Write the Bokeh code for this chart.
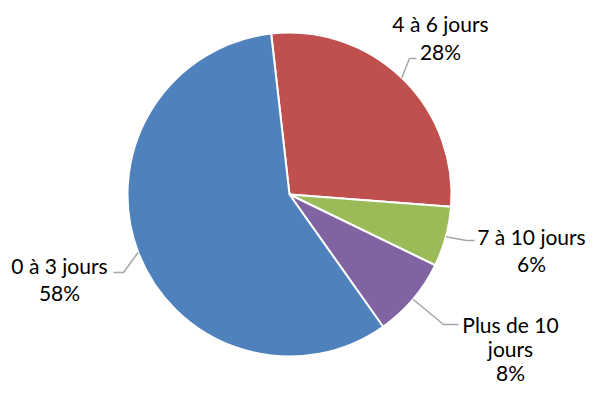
from math import radians, sin, cos
from bokeh.plotting import figure
from bokeh.models import Range1d
from bokeh.core.properties import value
from bokeh.embed import file_html
from bokeh.resources import INLINE

# ---- data ----
categories = ["4 à 6 jours", "7 à 10 jours", "Plus de 10 jours", "0 à 3 jours"]
percents = [28, 6, 8, 58]
colors = ["#C0504D", "#9BBB59", "#8064A2", "#4F81BD"]
label_lines = [["4 à 6 jours", "28%"], ["7 à 10 jours", "6%"],
               ["Plus de 10", "jours", "8%"], ["0 à 3 jours", "58%"]]

# ---- layout (picture pixel coordinates, origin top-left) ----
W, H = 587, 387
CX, CY, R = 289, 194, 162
START = -6.5  # degrees clockwise from 12 o'clock
label_pos = [(440, 23), (531, 236), (510, 324), (59, 265)]
line_gaps = [28, 27, 24, 27]
elbows = [[(409, 58), (416, 58)], [(466, 240), (474, 240)],
          [(443, 324), (458, 324)], [(123, 272), (113, 272)]]

def dy(sy):
    return H - sy  # picture y -> data y

p = figure(width=W, height=H, output_backend="svg", toolbar_location=None,
           x_range=Range1d(0, W), y_range=Range1d(0, H),
           min_border=0, outline_line_color=None)
p.axis.visible = False
p.grid.visible = False
p.background_fill_color = "white"
p.border_fill_color = "white"

total = sum(percents)
theta = START
for i, (pc, col) in enumerate(zip(percents, colors)):
    span = 360.0 * pc / total
    a0, a1 = theta, theta + span
    p.wedge(x=[CX], y=[dy(CY)], radius=R, radius_units="screen",
            start_angle=radians(90 - a0), end_angle=radians(90 - a1),
            direction="clock", fill_color=col, line_color="white", line_width=2)
    mid = (a0 + a1) / 2
    ex = CX + R * sin(radians(mid))
    ey = CY - R * cos(radians(mid))
    xs = [ex] + [e[0] for e in elbows[i]]
    ys = [dy(ey)] + [dy(e[1]) for e in elbows[i]]
    p.line(xs, ys, line_color="#A6A6A6", line_width=1.5)
    lx, ly = label_pos[i]
    for k, t in enumerate(label_lines[i]):
        p.text(x=[lx], y=[dy(ly + k * line_gaps[i])], text=[t],
               text_font=value("Lato"), text_font_size="21px",
               text_color="#000000", text_align="center", text_baseline="middle")
    theta = a1

open("out.html", "w").write(file_html(p, INLINE))
